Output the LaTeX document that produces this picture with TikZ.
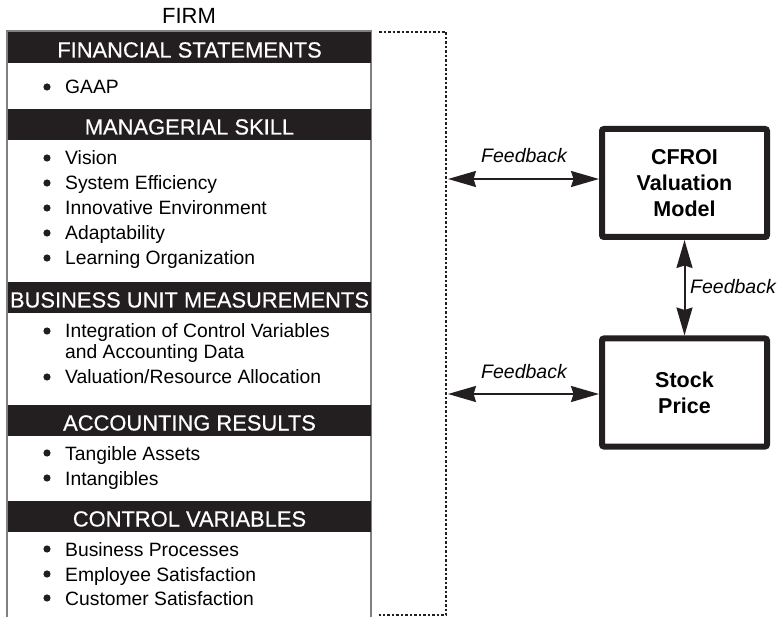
\documentclass[tikz,border=0pt]{standalone}
\usepackage{fontspec}
\setmainfont{Liberation Sans}
\newfontface\hdrfont{Liberation Sans}[FakeBold=0.4]
\usetikzlibrary{arrows.meta}
\definecolor{barblack}{HTML}{231F20}
\definecolor{framegray}{gray}{0.5}
\begin{document}
\begin{tikzpicture}[x=1pt,y=-1pt,
  hdr/.style={fill=barblack, text=white, minimum width=363pt, minimum height=31.5pt, inner sep=0pt, text height=20pt, text depth=0pt, font=\hdrfont\fontsize{21.9}{24}\selectfont},
  item/.style={anchor=base west, inner sep=0pt, font=\fontsize{19.3}{22}\selectfont},
  bul/.style={fill=barblack},
  fb/.style={font=\itshape\fontsize{19.5}{22}\selectfont, anchor=base, inner sep=0pt},
  bigbox/.style={draw=barblack, line width=6pt, rounded corners=2pt, minimum width=165pt, minimum height=108pt, align=center, font=\bfseries\fontsize{21.5}{26}\selectfont, inner sep=0pt},
  fbarrow/.style={{Stealth[length=28pt,width=16pt,inset=2.5pt]}-{Stealth[length=28pt,width=16pt,inset=2.5pt]}, line width=2pt, draw=barblack},
  dotline/.style={draw=barblack, line width=2pt, dash pattern=on 2.5pt off 2pt}
]
\useasboundingbox (0,0) rectangle (779,617);

% firm frame
\draw[framegray, line width=1.5pt] (7,618) -- (7,31) -- (371,31) -- (371,618);
\node[anchor=base, inner sep=0pt, font=\fontsize{22}{24}\selectfont] (firm) at (189,24) {FIRM};

% headers
\node[hdr] (h1) at (189.5,47.5) {FINANCIAL STATEMENTS};
\node[hdr] (h2) at (189.5,124.5) {MANAGERIAL SKILL};
\node[hdr] (h3) at (189.5,297.5) {BUSINESS UNIT MEASUREMENTS};
\node[hdr] (h4) at (189.5,420.5) {ACCOUNTING RESULTS};
\node[hdr] (h5) at (189.5,516.5) {CONTROL VARIABLES};

% items
\foreach \y/\t/\n in {94/GAAP/a1,
  165/Vision/b1, 190/System Efficiency/b2, 215/Innovative Environment/b3, 240/Adaptability/b4, 265/Learning Organization/b5,
  338/Integration of Control Variables/c1, 384/{Valuation/Resource Allocation}/c2,
  460/Tangible Assets/d1, 485/Intangibles/d2,
  556/Business Processes/e1, 581/Employee Satisfaction/e2, 605/Customer Satisfaction/e3}{
  \fill[bul] (47,\y-7) circle (3.6pt);
  \node[item] (\n) at (65,\y) {\t};
}
\node[item] (c1b) at (65,359) {and Accounting Data};

% dotted bracket
\coordinate (dt1) at (379,32);
\coordinate (dt2) at (446,32);
\coordinate (dt3) at (446,615);
\coordinate (dt4) at (379,615);
\draw[dotline] (dt1) -- (dt2) -- (dt3) -- (dt4);

% right boxes
\node[bigbox] (cfroi) at (684.5,183) {CFROI\\Valuation\\Model};
\node[bigbox] (stock) at (684.5,392.5) {Stock\\Price};

% arrows
\coordinate (fa) at (448,179);
\coordinate (fbp) at (448,394);
\draw[fbarrow] (fa) -- (cfroi.west |- fa);
\draw[fbarrow] (fbp) -- (stock.west |- fbp);
\draw[fbarrow] (cfroi.south) -- (stock.north);
\node[fb] (l1) at (524,163) {Feedback};
\node[fb] (l2) at (524,378) {Feedback};
\node[fb, anchor=base west] (l3) at (690,294) {Feedback};
\end{tikzpicture}
\end{document}
